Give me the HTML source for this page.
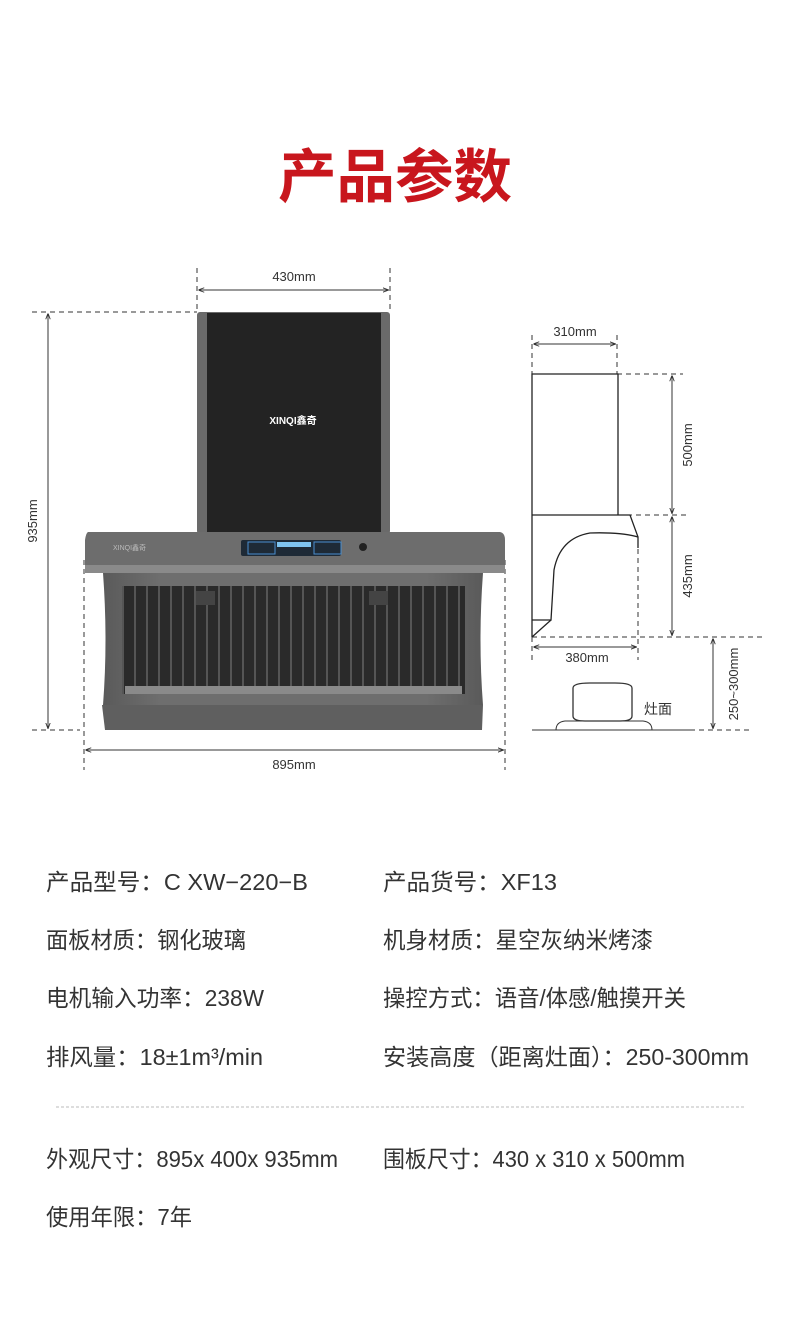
<!DOCTYPE html>
<html><head><meta charset="utf-8"><style>
html,body{margin:0;padding:0;background:#fff;}
svg{display:block;}
text{font-family:"Liberation Sans","Noto Sans CJK SC",sans-serif;}
</style></head><body>
<svg width="790" height="1321" viewBox="0 0 790 1321" xmlns="http://www.w3.org/2000/svg">
<defs>
<marker id="a" viewBox="0 0 8 8" refX="7" refY="4" markerWidth="6" markerHeight="6" orient="auto-start-reverse"><path d="M0,1 L8,4 L0,7" fill="none" stroke="#333" stroke-width="1.2"/></marker>
<linearGradient id="body" x1="0" x2="1"><stop offset="0" stop-color="#5a5a5a"/><stop offset="0.15" stop-color="#6e6e6e"/><stop offset="0.85" stop-color="#6e6e6e"/><stop offset="1" stop-color="#5a5a5a"/></linearGradient>
<pattern id="vanes" width="12" height="120" patternUnits="userSpaceOnUse"><rect width="12" height="120" fill="#2a2a2a"/><rect x="2" width="2" height="120" fill="#555"/></pattern>
</defs>
<text x="395" y="197" font-size="58" font-weight="bold" fill="#c8161d" text-anchor="middle" textLength="234" lengthAdjust="spacingAndGlyphs">产品参数</text>

<!-- dimension 430 -->
<g stroke="#333" stroke-width="1" stroke-dasharray="5,4" fill="none">
<line x1="197" y1="268" x2="197" y2="312"/><line x1="390" y1="268" x2="390" y2="312"/>
<line x1="32" y1="312" x2="197" y2="312"/><line x1="32" y1="730" x2="80" y2="730"/>
<line x1="84" y1="560" x2="84" y2="770"/><line x1="505" y1="560" x2="505" y2="770"/>
</g>
<g stroke="#333" stroke-width="1">
<line x1="199" y1="290" x2="388" y2="290" marker-start="url(#a)" marker-end="url(#a)"/>
<line x1="48" y1="314" x2="48" y2="728" marker-start="url(#a)" marker-end="url(#a)"/>
<line x1="86" y1="750" x2="503" y2="750" marker-start="url(#a)" marker-end="url(#a)"/>
</g>
<text x="294" y="281" font-size="13" fill="#333" text-anchor="middle">430mm</text>
<text x="294" y="769" font-size="13" fill="#333" text-anchor="middle">895mm</text>
<text transform="translate(37,521) rotate(-90)" font-size="13" fill="#333" text-anchor="middle">935mm</text>

<!-- hood -->
<rect x="197" y="312" width="193" height="222" rx="3" fill="#6a6a6a"/>
<rect x="207" y="313" width="174" height="220" fill="#232323"/>
<text x="293" y="424" font-size="10" font-weight="bold" fill="#fff" text-anchor="middle">XINQI鑫奇</text>
<path d="M88,532 L500,532 Q505,533 505,540 L505,568 L85,568 L85,540 Q86,533 88,532 Z" fill="#6d6d6d"/>
<rect x="85" y="565" width="420" height="8" fill="#8a8a8a"/>
<text x="113" y="550" font-size="7" fill="#bbb">XINQI鑫奇</text>
<rect x="241" y="540" width="100" height="16" rx="2" fill="#1e2a36"/>
<rect x="248" y="542" width="27" height="12" fill="none" stroke="#4a8fd0"/>
<rect x="277" y="542" width="34" height="5" fill="#7fc4f0"/>
<rect x="314" y="542" width="27" height="12" fill="none" stroke="#4a8fd0"/>
<circle cx="363" cy="547" r="4" fill="#222"/>
<path d="M103,573 L483,573 Q478,640 483,705 L103,705 Q108,640 103,573 Z" fill="url(#body)"/>
<rect x="122" y="586" width="343" height="108" fill="url(#vanes)"/>
<rect x="196" y="591" width="19" height="14" fill="#444"/>
<rect x="369" y="591" width="19" height="14" fill="#444"/>
<rect x="125" y="686" width="337" height="8" fill="#8a8a8a"/>
<path d="M102,705 L483,705 L482,730 L105,730 Z" fill="#5f5f5f"/>

<!-- side view -->
<g stroke="#333" stroke-width="1" stroke-dasharray="5,4" fill="none">
<line x1="532" y1="335" x2="532" y2="374"/><line x1="617" y1="335" x2="617" y2="374"/>
<line x1="617" y1="374" x2="683" y2="374"/><line x1="618" y1="515" x2="690" y2="515"/>
<line x1="532" y1="637" x2="762" y2="637"/><line x1="638" y1="540" x2="638" y2="660"/>
<line x1="532" y1="637" x2="532" y2="660"/>
<line x1="690" y1="730" x2="752" y2="730"/>
</g>
<g stroke="#333" stroke-width="1">
<line x1="534" y1="344" x2="615" y2="344" marker-start="url(#a)" marker-end="url(#a)"/>
<line x1="672" y1="376" x2="672" y2="513" marker-start="url(#a)" marker-end="url(#a)"/>
<line x1="672" y1="517" x2="672" y2="635" marker-start="url(#a)" marker-end="url(#a)"/>
<line x1="534" y1="647" x2="636" y2="647" marker-start="url(#a)" marker-end="url(#a)"/>
<line x1="713" y1="639" x2="713" y2="728" marker-start="url(#a)" marker-end="url(#a)"/>
<line x1="532" y1="730" x2="690" y2="730"/>
</g>
<g stroke="#222" stroke-width="1.3" fill="none">
<path d="M532,637 L532,374 L618,374 L618,515"/>
<path d="M532,515 L630,515 L638,537 L638,548"/>
<path d="M638,537 Q620,532 590,533 Q560,538 554,570 L551,620 L532,620"/>
<path d="M551,620 L532,637"/>
</g>
<path d="M556,730 Q556,722 565,721 L643,721 Q652,722 652,730 Z" fill="none" stroke="#333"/>
<path d="M573,688 Q573,683 590,683 L615,683 Q632,683 632,688 L632,716 Q632,721 620,721 L585,721 Q573,721 573,716 Z" fill="none" stroke="#333" stroke-width="1.3"/>
<text x="575" y="336" font-size="13" fill="#333" text-anchor="middle">310mm</text>
<text x="587" y="662" font-size="13" fill="#333" text-anchor="middle">380mm</text>
<text x="644" y="714" font-size="14" fill="#333">灶面</text>
<text transform="translate(692,445) rotate(-90)" font-size="13" fill="#333" text-anchor="middle">500mm</text>
<text transform="translate(692,576) rotate(-90)" font-size="13" fill="#333" text-anchor="middle">435mm</text>
<text transform="translate(738,684) rotate(-90)" font-size="13" fill="#333" text-anchor="middle">250~300mm</text>

<!-- specs -->
<g font-size="23" fill="#333" lengthAdjust="spacingAndGlyphs">
<text x="46" y="890" textLength="262" lengthAdjust="spacingAndGlyphs">产品型号：C XW−220−B</text>
<text x="383" y="890" textLength="174" lengthAdjust="spacingAndGlyphs">产品货号：XF13</text>
<text x="46" y="948" textLength="200" lengthAdjust="spacingAndGlyphs">面板材质：钢化玻璃</text>
<text x="383" y="948" textLength="270" lengthAdjust="spacingAndGlyphs">机身材质：星空灰纳米烤漆</text>
<text x="46" y="1006" textLength="218" lengthAdjust="spacingAndGlyphs">电机输入功率：238W</text>
<text x="383" y="1006" textLength="303" lengthAdjust="spacingAndGlyphs">操控方式：语音/体感/触摸开关</text>
<text x="46" y="1065" textLength="217" lengthAdjust="spacingAndGlyphs">排风量：18±1m³/min</text>
<text x="383" y="1065" textLength="366" lengthAdjust="spacingAndGlyphs">安装高度（距离灶面）：250-300mm</text>
<text x="46" y="1167" textLength="292" lengthAdjust="spacingAndGlyphs">外观尺寸：895x 400x 935mm</text>
<text x="383" y="1167" textLength="302" lengthAdjust="spacingAndGlyphs">围板尺寸：430 x 310 x 500mm</text>
<text x="46" y="1225" textLength="146" lengthAdjust="spacingAndGlyphs">使用年限：7年</text>
</g>
<line x1="56" y1="1107" x2="745" y2="1107" stroke="#bbb" stroke-width="1" stroke-dasharray="3,2"/>
</svg>
</body></html>
